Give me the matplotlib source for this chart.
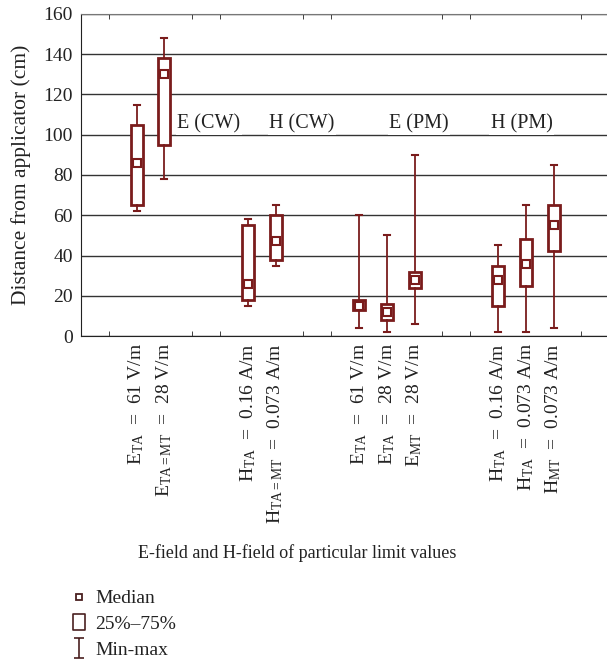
import matplotlib
matplotlib.use("Agg")
import matplotlib.pyplot as plt
from matplotlib.lines import Line2D
from matplotlib.path import Path

plt.rcParams["font.family"] = ["Liberation Serif", "DejaVu Serif"]
plt.rcParams["mathtext.fontset"] = "custom"
plt.rcParams["mathtext.rm"] = "Liberation Serif"
plt.rcParams["mathtext.it"] = "Liberation Serif:italic"

RED = "#7a1c1c"

# Box positions and distances (cm)
positions = [2, 3, 6, 7, 10, 11, 12, 15, 16, 17]
mins = [62, 78, 15, 35, 4, 2, 6, 2, 2, 4]
q1s = [65, 95, 18, 38, 13, 8, 24, 15, 25, 42]
medians = [86, 130, 26, 47, 15, 12, 28, 28, 36, 55]
q3s = [105, 138, 55, 60, 18, 16, 32, 35, 48, 65]
maxs = [115, 148, 58, 65, 60, 50, 90, 45, 65, 85]

labels = [
    r"$\mathrm{E}_{\mathrm{TA}}$  =  61 V/m",
    r"$\mathrm{E}_{\mathrm{TA=MT}}$  =  28 V/m",
    r"$\mathrm{H}_{\mathrm{TA}}$  =  0.16 A/m",
    r"$\mathrm{H}_{\mathrm{TA=MT}}$  =  0.073 A/m",
    r"$\mathrm{E}_{\mathrm{TA}}$  =  61 V/m",
    r"$\mathrm{E}_{\mathrm{TA}}$  =  28 V/m",
    r"$\mathrm{E}_{\mathrm{MT}}$  =  28 V/m",
    r"$\mathrm{H}_{\mathrm{TA}}$  =  0.16 A/m",
    r"$\mathrm{H}_{\mathrm{TA}}$  =  0.073 A/m",
    r"$\mathrm{H}_{\mathrm{MT}}$  =  0.073 A/m",
]

group_names = ["E (CW)", "H (CW)", "E (PM)", "H (PM)"]
group_x = [4.6, 7.95, 12.15, 15.85]
group_y = 105.5


def main():
    fig = plt.figure(figsize=(6.07, 6.63), dpi=100)
    ax = fig.add_axes([0.1334, 0.4932, 0.8666, 0.4857])

    stats = []
    for lo, a, m, b, hi in zip(mins, q1s, medians, q3s, maxs):
        stats.append(dict(whislo=lo, q1=a, med=m, mean=m, q3=b, whishi=hi))

    # median drawn as a small square marker (via the "mean" slot), no median line
    ax.bxp(
        stats,
        positions=positions,
        widths=0.43,
        capwidths=0.22,
        patch_artist=True,
        showmeans=True,
        showfliers=False,
        boxprops=dict(facecolor="white", edgecolor=RED, linewidth=2),
        whiskerprops=dict(color=RED, linewidth=1.3),
        capprops=dict(color=RED, linewidth=1.5),
        medianprops=dict(linewidth=0, alpha=0),
        meanprops=dict(marker="s", markerfacecolor="white", markeredgecolor=RED,
                       markersize=5.5, markeredgewidth=1.5),
        zorder=3,
    )

    for name, gx in zip(group_names, group_x):
        ax.text(gx, group_y, name, ha="center", va="center", fontsize=14.5,
                color="#222222", zorder=4,
                bbox=dict(facecolor="white", edgecolor="none", pad=1))

    ax.set_xlim(0, 18.92)
    ax.set_ylim(0, 160)
    ax.set_yticks(range(0, 161, 20))
    ax.yaxis.grid(True, color="#333333", linewidth=1)
    ax.set_axisbelow(True)
    ax.tick_params(axis="y", length=0, labelsize=14, pad=6, colors="#222222")

    ax.set_xticks(range(0, 19), minor=True)
    ax.set_xticks(positions)
    ax.set_xticklabels(labels, rotation=90, fontsize=14, color="#222222")
    ax.tick_params(axis="x", which="major", length=0, pad=5)
    ax.tick_params(axis="x", which="minor", direction="in", length=3.5,
                   top=True, bottom=True, color="#222222")

    ax.spines["right"].set_visible(False)
    ax.spines["top"].set_color("#777777")
    ax.spines["left"].set_color("#222222")
    ax.spines["bottom"].set_color("#222222")
    ax.set_ylabel("Distance from applicator (cm)", fontsize=15.5, color="#222222",
                  labelpad=9)

    fig.text(0.489, 0.166, "E-field and H-field of particular limit values",
             ha="center", va="center", fontsize=13, color="#222222")

    minmax = Path([(-0.5, 1), (0.5, 1), (0, 1), (0, -1), (-0.5, -1), (0.5, -1)],
                  [Path.MOVETO, Path.LINETO, Path.MOVETO, Path.LINETO,
                   Path.MOVETO, Path.LINETO])
    box = Path([(-0.35, -0.5), (0.35, -0.5), (0.35, 0.5), (-0.35, 0.5), (-0.35, -0.5)],
               [Path.MOVETO, Path.LINETO, Path.LINETO, Path.LINETO, Path.CLOSEPOLY])
    leg_color = "#4a2020"
    handles = [
        Line2D([], [], ls="none", marker="s", ms=5, mfc="white", mec=leg_color, mew=1.3),
        Line2D([], [], ls="none", marker=box, ms=11.5, mfc="white", mec=leg_color, mew=1.2),
        Line2D([], [], ls="none", marker=minmax, ms=15, mfc="none", mec=leg_color, mew=1.2),
    ]
    fig.legend(handles, ["Median", "25%\u201375%", "Min-max"], loc="upper left",
               bbox_to_anchor=(0.098, 0.125), frameon=False, fontsize=14,
               handlelength=1.0, handletextpad=0.35, labelspacing=0.42,
               borderpad=0, labelcolor="#222222")

    fig.savefig("out.png", dpi=100)


if __name__ == "__main__":
    main()
